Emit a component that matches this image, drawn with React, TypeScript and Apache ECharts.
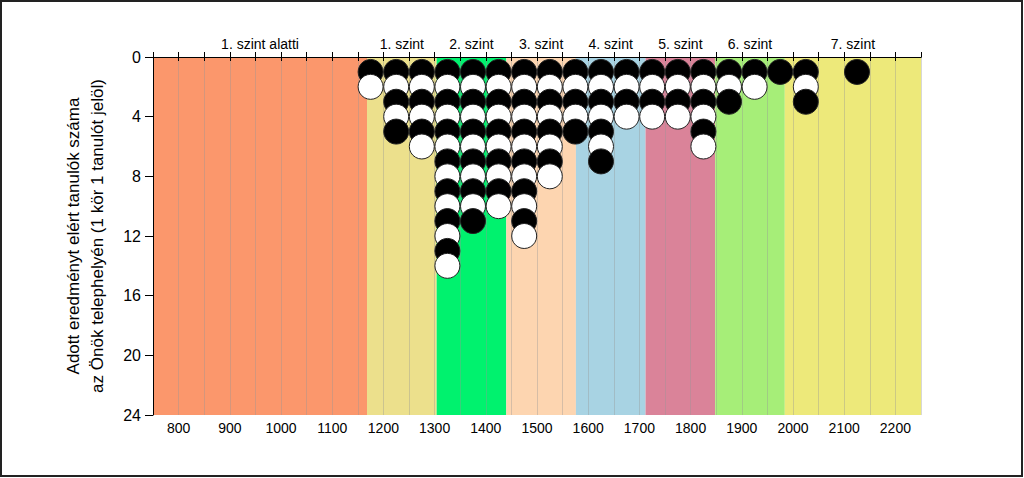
import React, { useEffect, useRef } from "react";
import * as echarts from "echarts";

const levelNames = ["1. szint alatti", "1. szint", "2. szint", "3. szint", "4. szint", "5. szint", "6. szint", "7. szint"];
const levelBounds = [750, 1168, 1304, 1440, 1576, 1712, 1848, 1984, 2250];
const levelColors = ["#FB976C", "#ECE08C", "#00F26E", "#FDD5B0", "#A8D3E3", "#DA8399", "#A6EE78", "#EDE97A"];

const binCenters = [1175, 1225, 1275, 1325, 1375, 1425, 1475, 1525, 1575, 1625, 1675, 1725, 1775, 1825, 1875, 1925, 1975, 2025, 2125];
const studentCounts = [2, 5, 6, 14, 11, 10, 12, 8, 5, 7, 4, 4, 4, 6, 3, 2, 1, 3, 1];

const yTicks = [0, 4, 8, 12, 16, 20, 24];

const FONT = "'Liberation Sans', Arial, sans-serif";

export default function App() {
  const ref = useRef<HTMLDivElement>(null);
  useEffect(() => {
    if (!ref.current) return;
    const chart = echarts.init(ref.current, undefined, { renderer: "svg" });

    const dots: any[] = [];
    binCenters.forEach((x, i) => {
      for (let k = 1; k <= studentCounts[i]; k++) {
        dots.push({
          value: [x, k],
          itemStyle: { color: k % 2 === 1 ? "#000000" : "#FFFFFF" },
        });
      }
    });

    const areas = levelNames.map((name, i) => [
      {
        name,
        xAxis: levelBounds[i],
        yAxis: yTicks[0],
        itemStyle: { color: levelColors[i], opacity: 1 },
      },
      { xAxis: levelBounds[i + 1], yAxis: yTicks[yTicks.length - 1] },
    ]);

    chart.setOption({
      animation: false,
      backgroundColor: "#FFFFFF",
      textStyle: { fontFamily: FONT },
      grid: { left: 153, top: 57, width: 768, height: 358 },
      xAxis: [
        {
          type: "value",
          position: "bottom",
          min: levelBounds[0],
          max: levelBounds[levelBounds.length - 1],
          interval: 50,
          z: 3,
          axisLine: { show: true, lineStyle: { color: "#000", width: 1 } },
          axisTick: { show: true, length: 4, lineStyle: { color: "#000" } },
          axisLabel: {
            color: "#000",
            fontSize: 14,
            fontFamily: FONT,
            margin: 6,
            showMinLabel: false,
            showMaxLabel: false,
            formatter: (v: number) => (v % 100 === 0 ? String(v) : ""),
          },
          splitLine: { show: true, lineStyle: { color: "rgba(150,150,150,0.38)", width: 1 } },
        },
        {
          type: "value",
          position: "top",
          min: levelBounds[0],
          max: levelBounds[levelBounds.length - 1],
          interval: 50,
          z: 3,
          axisLine: { show: true, lineStyle: { color: "#000", width: 1 } },
          axisTick: { show: true, length: 5, lineStyle: { color: "#000" } },
          axisLabel: { show: false },
          splitLine: { show: false },
        },
      ],
      yAxis: {
        type: "value",
        inverse: true,
        min: yTicks[0],
        max: yTicks[yTicks.length - 1],
        interval: 4,
        z: 3,
        axisLine: { show: true, lineStyle: { color: "#000", width: 1 } },
        axisTick: { show: true, length: 8, lineStyle: { color: "#000" } },
        axisLabel: { color: "#000", fontSize: 16, fontFamily: FONT, margin: 12 },
        splitLine: { show: false },
      },
      graphic: [
        {
          type: "text",
          x: 85,
          y: 236,
          rotation: Math.PI / 2,
          style: {
            text: "Adott eredményt elért tanulók száma\naz Önök telephelyén (1 kör 1 tanulót jelöl)",
            fill: "#000",
            font: `17px ${FONT}`,
            textAlign: "center",
            textVerticalAlign: "middle",
            lineHeight: 24,
          },
        },
        {
          type: "rect",
          shape: { x: 1, y: 1, width: 1021, height: 475 },
          style: { fill: "none", stroke: "#222", lineWidth: 2 },
          z: 100,
        },
      ],
      series: [
        {
          type: "scatter",
          xAxisIndex: 0,
          yAxisIndex: 0,
          data: [],
          z: 1,
          markArea: {
            silent: true,
            z: 1,
            label: {
              show: true,
              position: "top",
              distance: 6,
              color: "#000",
              fontSize: 14,
              fontFamily: FONT,
            },
            data: areas,
          },
        },
        {
          type: "scatter",
          xAxisIndex: 0,
          yAxisIndex: 0,
          z: 5,
          symbol: "circle",
          symbolSize: 25,
          itemStyle: { borderColor: "#222", borderWidth: 1, opacity: 1 },
          data: dots,
        },
      ],
    });
    return () => chart.dispose();
  }, []);

  return (
    <div style={{ position: "fixed", left: 0, top: 0, width: 1024, height: 478 }}>
      <div ref={ref} style={{ width: 1024, height: 478 }} />
    </div>
  );
}
